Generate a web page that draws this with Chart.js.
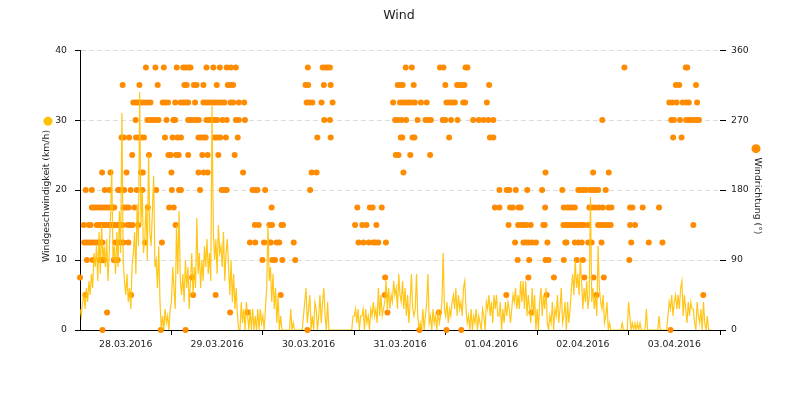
<!DOCTYPE html>
<html>
<head>
<meta charset="utf-8">
<title>Wind</title>
<script src="https://cdn.jsdelivr.net/npm/chart.js@4.4.1/dist/chart.umd.min.js"></script>
<style>
  html, body { margin: 0; padding: 0; background: #fff; }
  #wrap { width: 800px; height: 400px; }
</style>
</head>
<body>
<div id="wrap"><canvas id="windChart" width="800" height="400"></canvas></div>
<script>
// Zeitachse in Stunden ab 28.03.2016 00:00
const dayLabels = ['28.03.2016', '29.03.2016', '30.03.2016', '31.03.2016', '01.04.2016', '02.04.2016', '03.04.2016'];

// Windgeschwindigkeit (km/h), ein Wert alle 20 Minuten
const speedStepHours = 1 / 3;
const windSpeed = [
  3, 2, 4, 5, 3, 6, 4, 7, 5, 8, 6, 11,
  9, 12, 7, 14, 8, 15, 10, 12, 9, 13, 7, 11,
  16, 23, 10, 12, 8, 14, 9, 17, 11, 31, 10, 7,
  5, 8, 4, 6, 3, 9, 11, 14, 8, 18, 12, 34,
  15, 20, 11, 13, 18, 10, 25, 14, 12, 17, 22, 9,
  10, 6, 12, 4, 0, 2, 0, 3, 1, 2, 0, 3,
  // 29.03.
  4, 9, 6, 3, 15, 8, 17, 7, 5, 8, 4, 10,
  6, 9, 3, 7, 11, 5, 9, 6, 16, 8, 11, 6,
  10, 7, 12, 9, 13, 8, 11, 7, 32, 14, 10, 13,
  8, 15, 11, 12, 9, 14, 7, 11, 13, 9, 5, 10,
  4, 8, 3, 6, 2, 0, 0, 4, 1, 3, 0, 4,
  2, 0, 3, 0, 3, 0, 2, 0, 3, 0, 3, 1,
  // 30.03.
  2, 0, 3, 6, 15, 7, 9, 4, 8, 3, 6, 1,
  5, 0, 2, 0, 0, 0, 0, 0, 0, 0, 3, 0,
  1, 0, 0, 0, 0, 0, 0, 0, 2, 4, 6, 1,
  3, 5, 0, 2, 0, 4, 3, 0, 2, 5, 1, 4,
  6, 2, 0, 4, 0, 0, 0, 0, 0, 0, 0, 0,
  0, 0, 0, 0, 0, 0, 0, 0, 0, 0, 0, 2,
  // 31.03.
  2, 3, 1, 3, 0, 2, 2, 3, 0, 3, 1, 2,
  0, 3, 2, 4, 2, 3, 1, 6, 2, 5, 2, 3,
  4, 7, 3, 6, 3, 5, 4, 7, 5, 6, 3, 8,
  5, 4, 7, 3, 6, 2, 5, 1, 4, 8, 3, 2,
  3, 8, 2, 0, 1, 0, 3, 0, 2, 4, 8, 1,
  2, 0, 3, 1, 2, 0, 3, 1, 2, 4, 11, 3,
  // 01.04.
  2, 4, 1, 3, 2, 4, 5, 3, 6, 2, 5, 3,
  4, 2, 6, 7, 3, 1, 2, 0, 3, 0, 2, 1,
  3, 0, 2, 1, 0, 3, 2, 0, 4, 3, 5, 2,
  4, 1, 5, 3, 5, 2, 2, 4, 0, 3, 1, 4,
  2, 4, 3, 1, 3, 5, 4, 6, 3, 5, 3, 7,
  4, 7, 3, 7, 2, 5, 3, 1, 6, 2, 5, 0,
  // 02.04.
  3, 0, 4, 6, 2, 5, 3, 6, 1, 0, 2, 1,
  4, 0, 3, 2, 5, 1, 3, 6, 1, 2, 4, 0,
  4, 1, 3, 6, 8, 5, 10, 6, 8, 5, 10, 7,
  3, 6, 4, 7, 3, 5, 19, 4, 6, 3, 5, 2,
  12, 6, 4, 3, 5, 1, 2, 4, 0, 1, 0, 0,
  0, 0, 0, 0, 0, 0, 0, 1, 0, 0, 0, 0,
  // 03.04.
  4, 2, 0, 1, 0, 1, 0, 1, 0, 1, 0, 0,
  0, 0, 3, 0, 0, 0, 0, 0, 0, 0, 0, 0,
  2, 0, 0, 0, 0, 0, 0, 2, 4, 3, 5, 2,
  4, 5, 3, 5, 3, 6, 7, 2, 5, 3, 1, 4,
  2, 4, 3, 3, 1, 0, 4, 2, 1, 3, 0, 4,
  1, 0, 2, 0, 0, 0
];

// Windrichtung: Sektoren (Grad) und die Zeitpunkte (Stunden), an denen sie gemessen wurden
const dirSectors = [0, 22.5, 45, 67.5, 90, 112.5, 135, 157.5, 180, 202.5, 225, 247.5, 270, 292.5, 315, 337.5];
const dirHours = [
  [5.9, 21.2, 27.7, 59.7, 89.1, 96.2, 100.1, 155.0],
  [7.1, 39.4, 44.0, 80.7, 94.2, 118.5],
  [1.4, 13.4, 29.7, 35.6, 52.7, 80.0, 111.9, 122.5, 135.6, 163.6],
  [0.0, 29.4, 80.1, 117.7, 124.4, 132.4, 134.8, 137.5],
  [1.8, 3.3, 5.2, 5.9, 6.3, 8.9, 9.4, 9.9, 47.9, 50.5, 51.2, 53.1, 56.5, 114.9, 117.9, 122.2, 123.0,
   127.0, 130.4, 132.0, 144.2],
  [1.1, 1.7, 2.4, 3.0, 3.8, 4.5, 5.1, 5.9, 9.3, 9.9, 10.7, 11.4, 12.7, 17.1, 21.5, 44.6, 46.0, 48.3,
   49.6, 50.1, 51.6, 52.3, 56.1, 73.1, 74.4, 75.8, 77.0, 77.6, 78.3, 80.3, 114.2, 116.4, 117.1, 117.8,
   118.7, 119.7, 122.7, 127.4, 127.7, 129.9, 130.8, 131.7, 133.4, 134.3, 136.9, 144.7, 149.3, 152.9],
  [1.0, 2.3, 2.8, 4.4, 5.1, 5.7, 6.3, 6.8, 7.5, 8.0, 8.7, 9.4, 10.0, 10.7, 11.2, 12.5, 13.1, 13.8,
   15.3, 25.1, 45.9, 46.9, 49.7, 50.4, 52.9, 53.3, 72.2, 74.1, 75.2, 77.8, 112.5, 115.0, 115.9, 116.5,
   117.2, 118.3, 121.6, 122.0, 126.9, 127.7, 128.4, 129.0, 129.7, 130.4, 131.0, 131.7, 132.3, 133.4,
   136.0, 136.7, 137.4, 138.0, 138.7, 139.3, 144.4, 145.7, 161.0],
  [3.1, 3.7, 4.4, 5.1, 5.8, 6.5, 7.2, 7.9, 8.6, 9.0, 11.5, 12.2, 12.8, 14.3, 17.8, 23.4, 24.6, 50.3,
   72.8, 76.1, 76.8, 79.2, 108.9, 110.1, 112.9, 113.6, 115.1, 115.7, 122.1, 127.0, 127.9, 128.6,
   129.3, 129.9, 133.7, 134.4, 135.2, 136.2, 137.2, 138.7, 139.5, 144.4, 145.0, 147.7, 152.0],
  [1.5, 3.1, 6.5, 7.7, 10.0, 10.3, 11.6, 13.3, 14.9, 16.4, 20.0, 24.1, 26.0, 26.5, 31.5, 37.2, 37.9,
   38.5, 45.3, 46.0, 46.6, 48.6, 60.4, 110.1, 112.0, 112.7, 114.4, 117.4, 121.3, 126.6, 130.8, 131.4,
   132.1, 132.8, 133.9, 134.6, 135.3, 136.0, 138.0],
  [5.8, 8.0, 12.2, 16.0, 16.5, 24.0, 31.1, 32.5, 33.5, 42.8, 60.8, 62.1, 84.9, 122.2, 134.7, 138.8],
  [13.7, 18.1, 23.2, 23.8, 25.2, 25.9, 28.4, 32.1, 33.5, 36.3, 40.6, 82.9, 83.6, 86.7, 91.9],
  [10.9, 11.5, 12.9, 14.7, 15.4, 16.1, 16.8, 22.3, 24.3, 25.6, 26.5, 31.1, 31.8, 32.5, 33.0, 35.4,
   36.1, 36.8, 38.3, 41.4, 62.3, 65.8, 84.2, 84.6, 87.3, 87.8, 96.9, 107.6, 108.5, 155.7, 157.9],
  [14.6, 17.7, 18.4, 19.1, 19.8, 20.6, 22.7, 24.5, 25.0, 28.4, 29.1, 29.8, 30.6, 31.2, 33.2, 33.9,
   34.6, 35.3, 36.0, 37.4, 38.5, 40.9, 41.7, 43.3, 64.1, 65.6, 82.7, 83.5, 84.4, 85.6, 88.6, 90.7,
   91.4, 92.1, 95.2, 95.9, 97.4, 99.1, 103.2, 104.7, 105.9, 107.2, 108.5, 137.1, 155.2, 155.9, 157.5,
   159.1, 159.8, 160.5, 161.2, 161.9, 162.5],
  [14.0, 14.7, 15.3, 16.0, 16.8, 17.7, 18.5, 21.7, 22.4, 23.1, 25.0, 26.4, 27.1, 27.8, 28.4, 30.2,
   32.4, 33.2, 33.9, 34.8, 35.5, 36.3, 37.2, 37.9, 39.5, 40.2, 41.7, 43.1, 59.5, 60.2, 61.0, 63.4,
   66.3, 82.2, 84.0, 84.7, 85.5, 86.2, 86.9, 87.9, 89.5, 91.0, 96.2, 96.9, 97.7, 98.4, 100.6, 101.1,
   106.8, 154.7, 155.5, 156.6, 158.2, 159.1, 159.8, 162.0],
  [11.2, 15.6, 20.4, 27.4, 28.0, 29.9, 30.6, 32.4, 35.9, 38.8, 39.5, 40.2, 59.2, 59.9, 64.0, 65.8,
   83.4, 84.1, 84.7, 87.6, 95.9, 99.0, 99.7, 100.2, 100.9, 107.4, 156.4, 157.3, 161.7],
  [17.3, 19.8, 22.0, 25.4, 27.1, 27.8, 28.5, 29.0, 33.2, 35.0, 36.7, 38.5, 39.6, 40.9, 59.8, 63.7,
   64.4, 65.0, 65.6, 85.5, 87.1, 94.5, 95.4, 101.2, 101.7, 142.9, 159.0, 159.4]
];

const speedColor = 'rgba(255, 192, 0, 0.9)';
const dirColor = '#ff8c00';
const fontFamily = '"DejaVu Sans", Verdana, sans-serif';
const axisFontSize = 9.3;
const leftTitle = 'Windgeschwindigkeit (km/h)    ';
const rightTitle = '    Windrichtung (°)';

// Punkte fuer Chart.js zusammenbauen
const speedPoints = windSpeed.map((v, i) => ({ x: i * speedStepHours, y: v }));
const dirPoints = [];
dirSectors.forEach((deg, i) => {
    dirHours[i].forEach(h => dirPoints.push({ x: h, y: deg }));
});

// kleine Punkte neben den Achsentiteln (Legende)
const titleDots = {
    id: 'titleDots',
    afterDraw(chart) {
        const ctx = chart.ctx;
        const area = chart.chartArea;
        const midY = (area.top + area.bottom) / 2;
        ctx.save();
        ctx.font = axisFontSize + 'px ' + fontFamily;
        const wl = ctx.measureText(leftTitle).width;
        const wr = ctx.measureText(rightTitle).width;
        ctx.fillStyle = '#ffc000';
        ctx.beginPath();
        ctx.arc(48, midY - wl / 2 + 3, 4.5, 0, Math.PI * 2);
        ctx.fill();
        ctx.fillStyle = dirColor;
        ctx.beginPath();
        ctx.arc(756, midY - wr / 2 + 3, 4.5, 0, Math.PI * 2);
        ctx.fill();
        ctx.restore();
    }
};

Chart.defaults.font.family = fontFamily;
Chart.defaults.font.size = axisFontSize;
Chart.defaults.color = '#222';

const ctxWind = document.getElementById('windChart').getContext('2d');
const windChart = new Chart(ctxWind, {
    type: 'scatter',
    data: {
        datasets: [
            {
                label: 'Windgeschwindigkeit',
                data: speedPoints,
                yAxisID: 'y',
                showLine: true,
                borderColor: speedColor,
                borderWidth: 1.2,
                pointRadius: 0,
                tension: 0
            },
            {
                label: 'Windrichtung',
                data: dirPoints,
                yAxisID: 'y2',
                showLine: false,
                pointRadius: 3,
                pointBackgroundColor: dirColor,
                pointBorderWidth: 0,
                clip: false
            }
        ]
    },
    plugins: [titleDots],
    options: {
        responsive: false,
        animation: false,
        events: [],
        layout: { padding: { left: 35, right: 37, top: 0, bottom: 0 } },
        plugins: {
            legend: { display: false },
            tooltip: { enabled: false },
            title: {
                display: true,
                text: 'Wind',
                color: '#222',
                font: { size: 12.6, weight: 'normal' },
                padding: { top: 8, bottom: 27 }
            }
        },
        scales: {
            x: {
                type: 'linear',
                min: 0,
                max: 168,
                z: 1,
                afterFit: (scale) => { scale.height = 70; },
                border: { display: true, color: '#000', width: 1 },
                grid: {
                    drawOnChartArea: false,
                    drawTicks: true,
                    tickLength: 5,
                    tickColor: (c) => (c.tick && c.tick.value % 24 === 0 && c.tick.value > 0) ? '#000' : 'rgba(0,0,0,0)'
                },
                ticks: {
                    stepSize: 12,
                    autoSkip: false,
                    maxRotation: 0,
                    minRotation: 0,
                    padding: 4,
                    color: '#222',
                    callback: (value) => value % 24 === 12 ? dayLabels[(value - 12) / 24] : ''
                }
            },
            y: {
                position: 'left',
                min: 0,
                max: 40,
                afterFit: (scale) => { scale.width = 45; },
                border: { display: true, color: '#000', width: 1, dash: [5, 3] },
                grid: {
                    color: '#dcdcdc',
                    drawTicks: true,
                    tickLength: 5,
                    tickColor: '#000'
                },
                ticks: { stepSize: 10, padding: 8, color: '#222' },
                title: {
                    display: true,
                    text: leftTitle,
                    color: '#222',
                    padding: { top: 6, bottom: 0 }
                }
            },
            y2: {
                position: 'right',
                min: 0,
                max: 360,
                afterFit: (scale) => { scale.width = 43; },
                border: { display: false },
                grid: {
                    drawOnChartArea: false,
                    drawTicks: true,
                    tickLength: 6,
                    tickColor: '#000'
                },
                ticks: { stepSize: 90, padding: 5, color: '#222' },
                title: {
                    display: true,
                    text: rightTitle,
                    color: '#222',
                    padding: { top: 0, bottom: 0 }
                }
            }
        }
    }
});
</script>
</body>
</html>
